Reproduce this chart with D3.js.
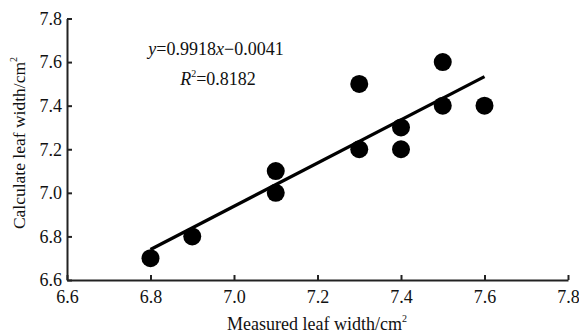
<!DOCTYPE html>
<html>
<head>
<meta charset="utf-8">
<script src="https://cdn.jsdelivr.net/npm/d3@7"></script>
<style>
  body { margin: 0; background: #fff; }
  svg { display: block; }
  text { font-family: "Liberation Serif", "Times New Roman", serif; fill: #111; }
</style>
</head>
<body>
<svg id="chart" width="579" height="333"></svg>
<script>
// Measured vs. calculated leaf width
const measured   = [6.8, 6.9, 7.1, 7.1, 7.3, 7.3, 7.4, 7.4, 7.5, 7.5, 7.6];
const calculated = [6.7, 6.8, 7.0, 7.1, 7.2, 7.5, 7.2, 7.3, 7.4, 7.6, 7.4];
const xTicks = [6.6, 6.8, 7.0, 7.2, 7.4, 7.6, 7.8];
const yTicks = [6.6, 6.8, 7.0, 7.2, 7.4, 7.6, 7.8];
const slope = 0.9918, intercept = -0.0041;
const fitRange = [6.8, 7.6];

const serif = '"Liberation Serif", "Times New Roman", serif';
const svg = d3.select("#chart");
const plotLeft = 67, plotRight = 568, plotTop = 18.5, plotBottom = 280;

const x = d3.scaleLinear().domain([6.6, 7.8]).range([plotLeft, plotRight]);
const y = d3.scaleLinear().domain([6.6, 7.8]).range([plotBottom, plotTop]);

// Axes with inward ticks
const xAxis = svg.append("g").attr("transform", `translate(0,${plotBottom})`)
  .call(d3.axisBottom(x).tickValues(xTicks).tickFormat(d3.format(".1f")).tickSizeInner(-5).tickSizeOuter(0).tickPadding(10));
const yAxis = svg.append("g").attr("transform", `translate(${plotLeft},0)`)
  .call(d3.axisLeft(y).tickValues(yTicks).tickFormat(d3.format(".1f")).tickSizeInner(-5).tickSizeOuter(0).tickPadding(5));

[xAxis, yAxis].forEach(g => {
  g.attr("font-family", serif).attr("font-size", 18);
  g.select(".domain").attr("stroke", "#222").attr("stroke-width", 2);
  g.selectAll(".tick line").attr("stroke", "#222").attr("stroke-width", 2);
  g.selectAll(".tick text").style("font-family", serif).style("font-size", "18px").attr("fill", "#222");
});

// Points
svg.append("g").selectAll("circle")
  .data(measured.map((m, i) => [m, calculated[i]]))
  .join("circle")
  .attr("cx", d => x(d[0]))
  .attr("cy", d => y(d[1]))
  .attr("r", 9)
  .attr("fill", "#000");

// Fitted line
svg.append("line")
  .attr("x1", x(fitRange[0])).attr("y1", y(slope * fitRange[0] + intercept))
  .attr("x2", x(fitRange[1])).attr("y2", y(slope * fitRange[1] + intercept))
  .attr("stroke", "#000").attr("stroke-width", 3.2);

// Equation
const eq = svg.append("text").attr("x", 216).attr("y", 55).attr("text-anchor", "middle").attr("font-size", 18);
eq.append("tspan").attr("font-style", "italic").text("y");
eq.append("tspan").text("=0.9918");
eq.append("tspan").attr("font-style", "italic").text("x");
eq.append("tspan").text("\u22120.0041");

const r2 = svg.append("text").attr("x", 218).attr("y", 85).attr("text-anchor", "middle").attr("font-size", 18);
r2.append("tspan").attr("font-style", "italic").text("R");
r2.append("tspan").attr("font-size", 10).attr("dy", -8).text("2");
r2.append("tspan").attr("dy", 8).text("=0.8182");

// Axis titles
const xt = svg.append("text").attr("x", 317).attr("y", 330).attr("text-anchor", "middle").attr("font-size", 18);
xt.append("tspan").text("Measured leaf width/cm");
xt.append("tspan").attr("font-size", 10).attr("dy", -8).text("2");

const yt = svg.append("text").attr("transform", "translate(25,143) rotate(-90)").attr("text-anchor", "middle").attr("font-size", 17.5);
yt.append("tspan").text("Calculate leaf width/cm");
yt.append("tspan").attr("font-size", 10).attr("dy", -8).text("2");
</script>
</body>
</html>
